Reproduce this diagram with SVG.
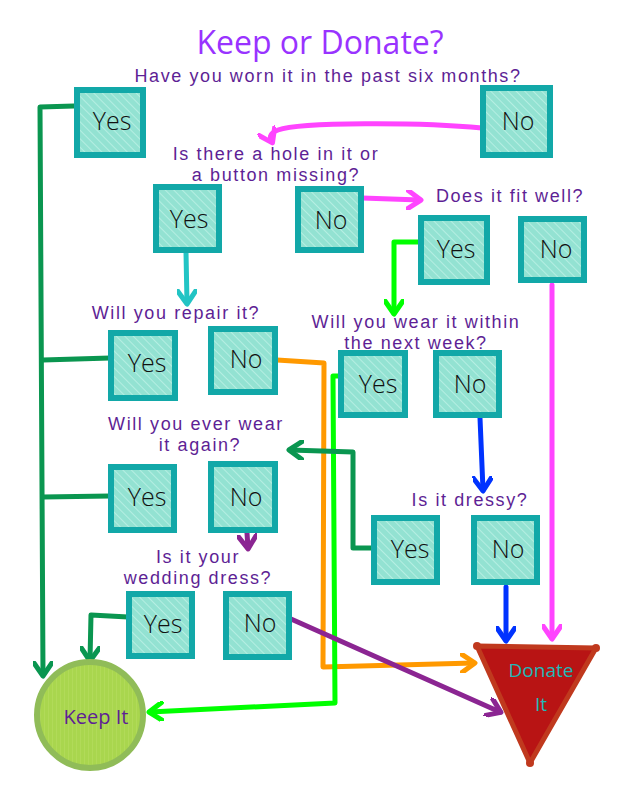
<svg xmlns="http://www.w3.org/2000/svg" width="636" height="794" viewBox="0 0 636 794">
<defs>
<pattern id="hatch" width="6" height="6" patternUnits="userSpaceOnUse" patternTransform="rotate(-45)">
<rect width="6" height="6" fill="#93e2d2"/>
<line x1="0" y1="0" x2="0" y2="6" stroke="#b5eee2" stroke-width="2"/>
</pattern>
<pattern id="hatchG" width="4" height="4" patternUnits="userSpaceOnUse">
<rect width="4" height="4" fill="#a9d64e"/>
<line x1="0" y1="0" x2="0" y2="4" stroke="#b4dc5c" stroke-width="1.5"/>
</pattern>
<marker id="ah" viewBox="0 0 20 20" refX="14" refY="10" markerWidth="20" markerHeight="20" markerUnits="userSpaceOnUse" orient="auto">
<path d="M2,1 L15,10 L2,19" fill="none" stroke="context-stroke" stroke-width="5" stroke-linecap="round" stroke-linejoin="round"/>
</marker>
</defs>
<style>
.box{fill:url(#hatch);stroke:#12a8a8;stroke-width:6;stroke-linejoin:miter}
.lbl{font-family:"Open Sans","DejaVu Sans",sans-serif;font-weight:300;font-size:25px;fill:#111;text-anchor:middle}
.q{font-family:"Liberation Sans",Arial,sans-serif;font-size:18px;letter-spacing:1.6px;fill:#5e1f95;text-anchor:middle}
.c{fill:none;stroke-width:5;stroke-linecap:round;stroke-linejoin:round}
</style>
<rect width="636" height="794" fill="#ffffff"/>
<text x="320" y="54" font-family="'Open Sans','DejaVu Sans',sans-serif" font-size="32" fill="#9933ff" text-anchor="middle">Keep or Donate?</text>
<text class="q" x="328" y="82">Have you worn it in the past six months?</text>
<text class="q" x="276" y="160">Is there a hole in it or</text>
<text class="q" x="276" y="181">a button missing?</text>
<text class="q" x="510" y="202">Does it fit well?</text>
<text class="q" x="176" y="319">Will you repair it?</text>
<text class="q" x="416" y="328">Will you wear it within</text>
<text class="q" x="416" y="349">the next week?</text>
<text class="q" x="196" y="430">Will you ever wear</text>
<text class="q" x="200" y="451">it again?</text>
<text class="q" x="470" y="506">Is it dressy?</text>
<text class="q" x="198" y="563">Is it your</text>
<text class="q" x="198" y="584">wedding dress?</text>

<g id="connectors">
<path class="c" stroke="#0a9650" d="M74,106 L40,107 L43,675" marker-end="url(#ah)"/>
<path class="c" stroke="#0a9650" d="M43,360 L110,358"/>
<path class="c" stroke="#0a9650" d="M43,497 L110,496"/>
<path class="c" stroke="#ff44ff" d="M482,128 C420,122 300,122 278,130 C268,134 270,138 272,142" marker-end="url(#ah)"/>
<path class="c" stroke="#ff44ff" d="M362,198 L420,200" marker-end="url(#ah)"/>
<path class="c" stroke="#ff44ff" d="M552,285 L552,638" marker-end="url(#ah)"/>
<path class="c" stroke="#22c4c4" d="M186,252 L187,303" marker-end="url(#ah)"/>
<path class="c" stroke="#00ff00" d="M420,242 L394,242 L394,313" marker-end="url(#ah)"/>
<path class="c" stroke="#ff9900" d="M277,360 L324,363 L323,667 L474,663" marker-end="url(#ah)"/>
<path class="c" stroke="#00ff00" d="M340,376 L333,376 L335,703 L150,712" marker-end="url(#ah)"/>
<path class="c" stroke="#0033ff" d="M480,418 L483,490" marker-end="url(#ah)"/>
<path class="c" stroke="#0a9650" d="M373,548 L353,548 L353,452 L290,450" marker-end="url(#ah)"/>
<path class="c" stroke="#0033ff" d="M506,587 L506,640" marker-end="url(#ah)"/>
<path class="c" stroke="#8b2592" d="M247,533 L248,548" marker-end="url(#ah)"/>
<path class="c" stroke="#0a9650" d="M128,617 L91,615 L90,660" marker-end="url(#ah)"/>
<path class="c" stroke="#8b2592" d="M291,619 L500,712" marker-end="url(#ah)"/>
</g>

<g id="n1"><rect class="box" x="77" y="90" width="66" height="65"/><text class="lbl" x="112" y="130">Yes</text></g>
<g id="n2"><rect class="box" x="483" y="88" width="67" height="67"/><text class="lbl" x="518" y="130">No</text></g>
<g id="n3"><rect class="box" x="156" y="187" width="63" height="63"/><text class="lbl" x="189" y="228">Yes</text></g>
<g id="n4"><rect class="box" x="298" y="189" width="63" height="61"/><text class="lbl" x="331" y="229">No</text></g>
<g id="n5"><rect class="box" x="421" y="218" width="66" height="64"/><text class="lbl" x="456" y="258">Yes</text></g>
<g id="n6"><rect class="box" x="521" y="219" width="63" height="61"/><text class="lbl" x="556" y="258">No</text></g>
<g id="n7"><rect class="box" x="111" y="333" width="64" height="65"/><text class="lbl" x="147" y="372">Yes</text></g>
<g id="n8"><rect class="box" x="211" y="329" width="64" height="63"/><text class="lbl" x="246" y="368">No</text></g>
<g id="n9"><rect class="box" x="341" y="353" width="64" height="62"/><text class="lbl" x="378" y="393">Yes</text></g>
<g id="n10"><rect class="box" x="436" y="353" width="63" height="62"/><text class="lbl" x="470" y="393">No</text></g>
<g id="n11"><rect class="box" x="111" y="467" width="63" height="63"/><text class="lbl" x="147" y="506">Yes</text></g>
<g id="n12"><rect class="box" x="211" y="464" width="64" height="66"/><text class="lbl" x="246" y="506">No</text></g>
<g id="n13"><rect class="box" x="374" y="518" width="63" height="64"/><text class="lbl" x="410" y="558">Yes</text></g>
<g id="n14"><rect class="box" x="474" y="518" width="63" height="64"/><text class="lbl" x="508" y="558">No</text></g>
<g id="n15"><rect class="box" x="129" y="594" width="63" height="62"/><text class="lbl" x="163" y="633">Yes</text></g>
<g id="n16"><rect class="box" x="226" y="594" width="63" height="63"/><text class="lbl" x="260" y="632">No</text></g>

<g id="keep"><ellipse cx="90" cy="715" rx="53" ry="53" fill="url(#hatchG)" stroke="#90bc58" stroke-width="6"/><text x="96" y="724" font-family="'Open Sans','DejaVu Sans',sans-serif" font-size="20" fill="#5e1f95" text-anchor="middle">Keep It</text></g>
<g id="donate"><path d="M477,646 L596,648 L530,763 Z" fill="#b81414" stroke="#c0391e" stroke-width="5" stroke-linejoin="round"/><circle cx="477" cy="646" r="4" fill="#c0391e"/><circle cx="596" cy="648" r="4" fill="#c0391e"/><circle cx="530" cy="763" r="4" fill="#c0391e"/><text x="541" y="677" font-family="'Open Sans','DejaVu Sans',sans-serif" font-size="19" fill="#22b8b8" text-anchor="middle">Donate</text><text x="541" y="711" font-family="'Open Sans','DejaVu Sans',sans-serif" font-size="19" fill="#22b8b8" text-anchor="middle">It</text></g>
</svg>
